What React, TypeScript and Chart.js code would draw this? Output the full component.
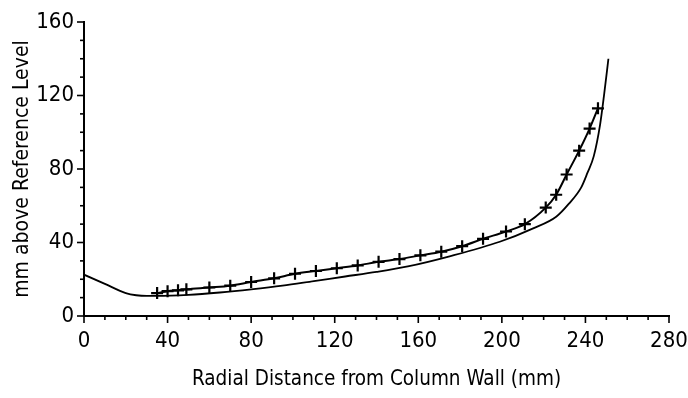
import { useEffect, useRef } from 'react';
import { Chart, registerables } from 'chart.js';

Chart.register(...registerables);

const FONT = '"Liberation Sans Narrow", "DejaVu Sans Condensed", "Liberation Sans", sans-serif';

const xTitle = 'Radial Distance from Column Wall (mm)';
const yTitle = 'mm above Reference Level';

// smooth (unmarked) curve
const curveX = [0, 10, 20, 25, 30, 35, 50, 65, 80, 95, 110, 125, 140, 155, 175, 199, 215, 226, 232, 238, 241, 244, 247, 249, 251];
const curveY = [22.5, 17.5, 12.5, 11.3, 10.9, 10.9, 11.5, 12.8, 14.5, 16.5, 19, 21.5, 24, 27, 32.5, 40.4, 47.7, 54, 61, 70, 78, 87, 104, 121, 140];

// measured (+ marked) series
const markX = [35, 40, 45, 49, 60, 70, 80, 91, 101, 111, 121, 131, 141, 151, 161, 171, 181, 191, 202, 211, 221, 226, 231, 237, 242, 246];
const markY = [12.5, 13.5, 14, 14.5, 15.5, 16.5, 18.5, 20.5, 23, 24.5, 26, 27.5, 29.5, 31, 33, 35, 38, 42, 46, 50, 59, 66, 77, 90, 102, 113];

const X_MIN = 0, X_MAX = 280, X_MAJOR = 40, X_MINOR = 10;
const Y_MIN = 0, Y_MAX = 160, Y_MAJOR = 40, Y_MINOR = 10;

const tickPlugin = {
  id: 'customTicks',
  afterDraw(chart: any) {
    const { ctx, scales, chartArea } = chart;
    const x = scales.x, y = scales.y;
    ctx.save();
    ctx.strokeStyle = '#000';
    ctx.lineWidth = 1.6;
    for (let v = X_MIN; v <= X_MAX; v += X_MINOR) {
      const px = x.getPixelForValue(v);
      const len = v % X_MAJOR === 0 ? 7 : 4;
      ctx.beginPath();
      ctx.moveTo(px, chartArea.bottom);
      ctx.lineTo(px, chartArea.bottom + len);
      ctx.stroke();
    }
    for (let v = Y_MIN; v <= Y_MAX; v += Y_MINOR) {
      const py = y.getPixelForValue(v);
      const len = v % Y_MAJOR === 0 ? 7 : 4;
      ctx.beginPath();
      ctx.moveTo(chartArea.left, py);
      ctx.lineTo(chartArea.left - len, py);
      ctx.stroke();
    }
    ctx.restore();
  },
};

export default function App() {
  const ref = useRef<HTMLCanvasElement | null>(null);

  useEffect(() => {
    document.body.style.margin = '0';
    const canvas = ref.current;
    if (!canvas) return;
    const chart = new Chart(canvas, {
      type: 'line',
      data: {
        datasets: [
          {
            label: 'curve',
            data: curveX.map((v, i) => ({ x: v, y: curveY[i] })),
            borderColor: '#000',
            borderWidth: 1.8,
            pointRadius: 0,
            cubicInterpolationMode: 'monotone',
            fill: false,
          },
          {
            label: 'measured',
            data: markX.map((v, i) => ({ x: v, y: markY[i] })),
            borderColor: '#000',
            borderWidth: 2,
            pointStyle: 'cross',
            pointRadius: 6,
            pointBorderWidth: 2.2,
            pointBorderColor: '#000',
            cubicInterpolationMode: 'monotone',
            fill: false,
          },
        ],
      },
      options: {
        animation: false,
        responsive: true,
        maintainAspectRatio: false,
        layout: { padding: { top: 22, right: 19, left: 0, bottom: 0 } },
        plugins: { legend: { display: false }, tooltip: { enabled: false } },
        scales: {
          x: {
            type: 'linear',
            min: X_MIN,
            max: X_MAX,
            grid: { display: false, drawTicks: false },
            border: { display: true, color: '#000', width: 2 },
            ticks: {
              stepSize: X_MAJOR,
              color: '#000',
              padding: 12,
              font: { family: FONT, size: 22 },
              maxRotation: 0,
            },
            title: {
              display: true,
              text: xTitle,
              color: '#000',
              font: { family: FONT, size: 20.5 },
              padding: { top: 4, bottom: 6 },
            },
            afterFit: (s: any) => { s.height = 82; s.paddingRight = 0; s.paddingLeft = 0; },
          },
          y: {
            type: 'linear',
            min: Y_MIN,
            max: Y_MAX,
            grid: { display: false, drawTicks: false },
            border: { display: true, color: '#000', width: 2 },
            ticks: {
              stepSize: Y_MAJOR,
              color: '#000',
              padding: 10,
              font: { family: FONT, size: 22 },
            },
            title: {
              display: true,
              text: yTitle,
              color: '#000',
              font: { family: FONT, size: 21 },
              padding: { top: 10, bottom: 4 },
            },
            afterFit: (s: any) => { s.width = 84; s.paddingTop = 0; s.paddingBottom = 0; },
          },
        },
      },
      plugins: [tickPlugin],
    });
    return () => chart.destroy();
  }, []);

  return (
    <div style={{ position: 'relative', width: 688, height: 398 }}>
      <canvas ref={ref} />
    </div>
  );
}
